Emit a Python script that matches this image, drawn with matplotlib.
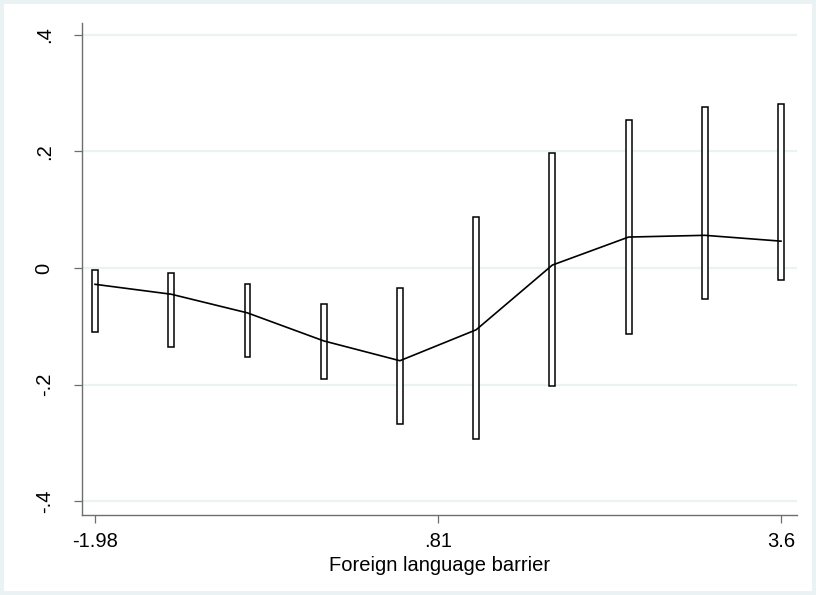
#!/usr/bin/env python3
"""Marginal effect by foreign language barrier, Stata-style rbar plot."""

import matplotlib

matplotlib.use("Agg")
import matplotlib.pyplot as plt
from matplotlib.patches import Rectangle

# data
barrier = [-1.98, -1.36, -0.74, -0.12, 0.50, 1.12, 1.74, 2.36, 2.98, 3.60]
effect = [-0.028, -0.045, -0.077, -0.125, -0.159, -0.106, 0.005, 0.053, 0.056, 0.046]
ci_low = [-0.110, -0.135, -0.152, -0.191, -0.267, -0.293, -0.202, -0.114, -0.053, -0.020]
ci_high = [-0.003, -0.009, -0.027, -0.062, -0.034, 0.087, 0.197, 0.254, 0.276, 0.281]

x_ticks = [-1.98, 0.81, 3.6]
x_tick_labels = ["-1.98", ".81", "3.6"]
y_ticks = [-0.4, -0.2, 0.0, 0.2, 0.4]
y_tick_labels = ["-.4", "-.2", "0", ".2", ".4"]

GRID = "#EAF2F3"
AXIS = "#6E6E6E"

plt.rcParams.update(
    {
        "font.family": ["Liberation Sans", "DejaVu Sans"],
        "font.size": 14.5,
    }
)

fig = plt.figure(figsize=(8.16, 5.95), dpi=100)
fig.patch.set_facecolor(GRID)
# white graph region inside a thin light frame
fig.patches.append(
    Rectangle((4 / 816, 4 / 595), 1 - 8 / 816, 1 - 8 / 595,
              transform=fig.transFigure, facecolor="white", edgecolor="none", zorder=-10)
)

ax = fig.add_axes([81.5 / 816, 1 - 515 / 595, (797 - 81.5) / 816, (515 - 23) / 595])
ax.set_zorder(1)
ax.set_facecolor("white")

heights = [hi - lo for lo, hi in zip(ci_low, ci_high)]
ax.bar(barrier, heights, bottom=ci_low, width=0.048, facecolor="white",
       edgecolor="black", linewidth=1.1, zorder=2)
ax.plot(barrier, effect, color="black", linewidth=1.2, zorder=3)

ax.set_xlim(-2.09, 3.73)
ax.set_ylim(-0.4235, 0.42)

ax.set_yticks(y_ticks)
ax.set_yticklabels(y_tick_labels, rotation=90, va="center")
ax.set_xticks(x_ticks)
ax.set_xticklabels(x_tick_labels)
ax.set_xlabel("Foreign language barrier", labelpad=3.5)

ax.grid(axis="y", color=GRID, linewidth=1.6, zorder=0)
ax.set_axisbelow(True)

for side in ("top", "right"):
    ax.spines[side].set_visible(False)
for side in ("left", "bottom"):
    ax.spines[side].set_color(AXIS)
    ax.spines[side].set_linewidth(1.0)
ax.tick_params(axis="both", length=6, width=0.9, color=AXIS, labelcolor="black")
ax.tick_params(axis="y", pad=14)
ax.tick_params(axis="x", pad=6.5)

fig.savefig("out.png", dpi=100, facecolor=fig.get_facecolor())
